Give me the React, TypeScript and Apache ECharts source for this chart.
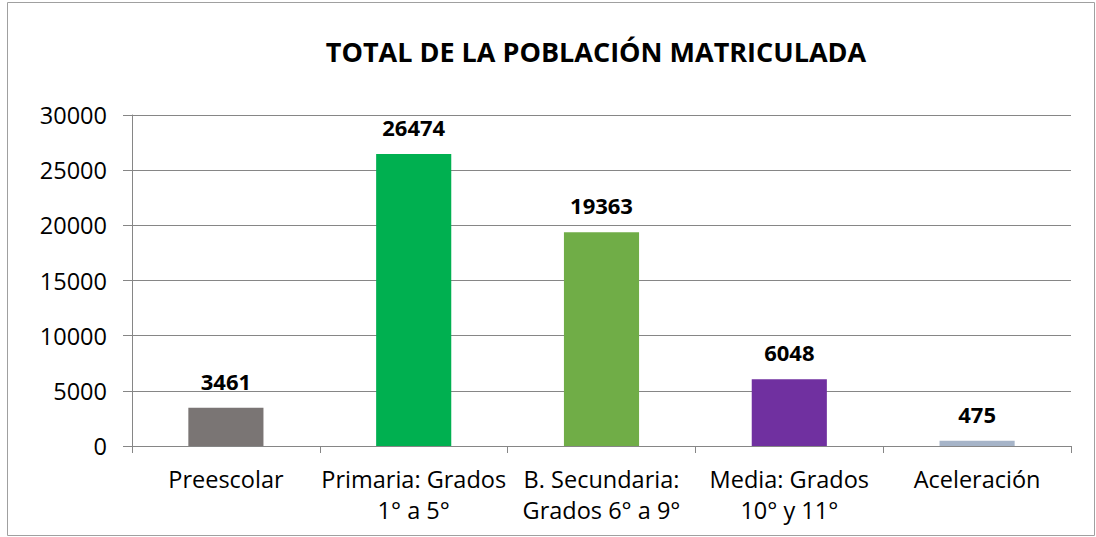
import React, { useEffect, useRef } from "react";
import * as echarts from "echarts";

const categories = ["Preescolar", "Primaria: Grados\n1° a 5°", "B. Secundaria:\nGrados 6° a 9°", "Media: Grados\n10° y 11°", "Aceleración"];
const values = [3461, 26474, 19363, 6048, 475];
const colors = ["#7a7574", "#00b050", "#70ad47", "#7030a0", "#a6b4c8"];
const title = "TOTAL DE LA POBLACIÓN MATRICULADA";

export default function App() {
  const ref = useRef<HTMLDivElement>(null);
  useEffect(() => {
    const chart = echarts.init(ref.current!, null, { renderer: "svg" });
    chart.setOption({
      animation: false,
      backgroundColor: "#ffffff",
      title: {
        text: title,
        left: 591,
        textAlign: "center",
        top: 33,
        textStyle: { fontFamily: "Open Sans", fontWeight: "bold", fontSize: 27, color: "#000" },
      },
      graphic: [
        {
          type: "rect",
          shape: { x: 7.5, y: 2.5, width: 1087, height: 533 },
          style: { fill: "none", stroke: "#a0a0a0", lineWidth: 1 },
          silent: true,
        },
      ],
      grid: { left: 132, right: 25, top: 115, bottom: 91 },
      xAxis: {
        type: "category",
        data: categories,
        axisLine: { lineStyle: { color: "#868686" } },
        axisTick: { show: true, length: 7, alignWithLabel: false, lineStyle: { color: "#868686" } },
        axisLabel: { fontFamily: "Open Sans", fontSize: 23.5, color: "#000", margin: 17, lineHeight: 31, interval: 0 },
      },
      yAxis: {
        type: "value",
        min: 0,
        max: 30000,
        interval: 5000,
        axisLine: { show: true, lineStyle: { color: "#868686" } },
        axisTick: { show: true, length: 9, lineStyle: { color: "#868686" } },
        splitLine: { lineStyle: { color: "#868686" } },
        axisLabel: { fontFamily: "Open Sans", fontSize: 23.5, color: "#000", margin: 25, formatter: (v: number) => String(v) },
      },
      series: [
        {
          type: "bar",
          barWidth: "40%",
          data: values.map((v, i) => ({ value: v, itemStyle: { color: colors[i] } })),
          label: {
            show: true,
            position: "top",
            distance: 16,
            fontFamily: "Open Sans",
            fontWeight: "bold",
            fontSize: 22,
            color: "#000",
          },
        },
      ],
    });
    return () => chart.dispose();
  }, []);
  return <div ref={ref} style={{ position: "fixed", left: 0, top: 0, width: 1096, height: 537 }} />;
}
